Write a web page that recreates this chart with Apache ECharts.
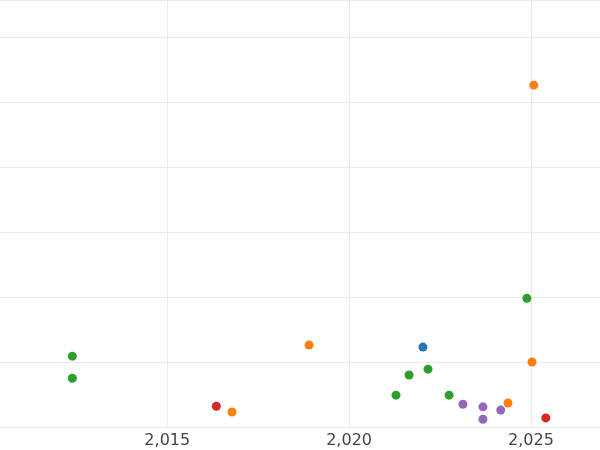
<!DOCTYPE html>
<html>
<head>
<meta charset="utf-8">
<script src="https://cdn.jsdelivr.net/npm/echarts@6/dist/echarts.min.js"></script>
<style>html,body{margin:0;padding:0;background:#fff}#chart{width:600px;height:450px}</style>
</head>
<body>
<div id="chart"></div>
<script>
var xTicks = [2015, 2020, 2025];
var blue = [[2022.03, 1.23]];
var orange = [[2016.78, 0.23], [2018.9, 1.26], [2024.37, 0.37], [2025.03, 1.0], [2025.08, 5.26]];
var green = [[2012.39, 1.09], [2012.39, 0.75], [2021.29, 0.49], [2021.65, 0.80], [2022.17, 0.89], [2022.75, 0.49], [2024.89, 1.98]];
var red = [[2016.35, 0.32], [2025.41, 0.14]];
var purple = [[2023.13, 0.35], [2023.68, 0.31], [2023.68, 0.12], [2024.17, 0.26]];

var chart = echarts.init(document.getElementById('chart'));

function pts(name, color, data) {
    return { name: name, type: 'scatter', data: data, symbolSize: 9,
             itemStyle: { color: color, opacity: 1 } };
}

chart.setOption({
    animation: false,
    grid: { left: 0, right: 0, top: 0, bottom: 23 },
    xAxis: {
        type: 'value', min: 2010.4, max: 2026.9,
        axisLine: { show: false },
        axisTick: { show: false, customValues: xTicks },
        axisLabel: { customValues: xTicks, color: '#444', fontSize: 16, fontFamily: 'DejaVu Sans', margin: 6 },
        splitLine: { show: true, lineStyle: { color: '#ebebeb', width: 1 } }
    },
    yAxis: {
        type: 'value', min: 0, max: 6.57, interval: 1,
        axisLine: { show: false }, axisTick: { show: false },
        axisLabel: { show: false },
        splitLine: { lineStyle: { color: '#ebebeb', width: 1 } }
    },
    series: [
        pts('blue', '#1f77b4', blue),
        pts('orange', '#ff7f0e', orange),
        pts('green', '#2ca02c', green),
        pts('red', '#d62728', red),
        pts('purple', '#9467bd', purple)
    ]
});
</script>
</body>
</html>
